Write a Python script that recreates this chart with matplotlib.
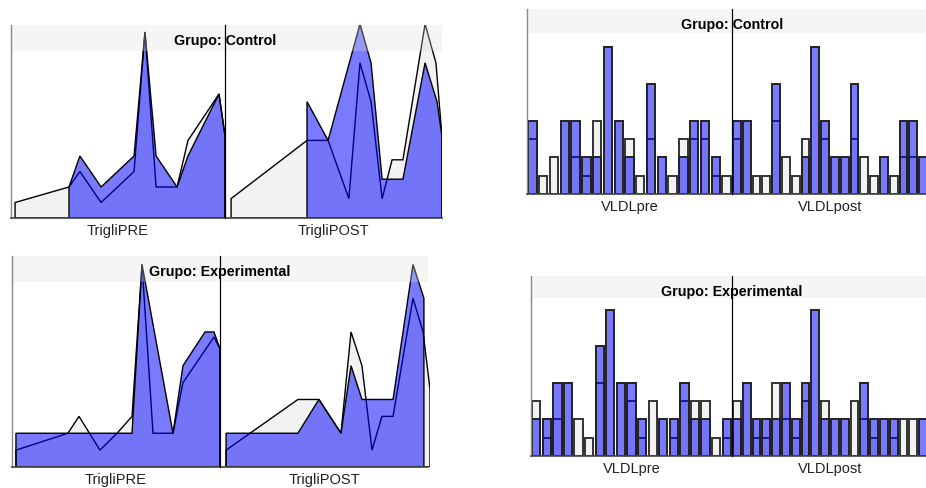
import matplotlib
matplotlib.use("Agg")
import matplotlib.pyplot as plt
from matplotlib.patches import Rectangle

W, H = 926, 489
GRAY = "#f2f2f2"
BLUE = (0.0, 0.0, 1.0, 0.52)

# frequency polygons, x on a 0-100 scale of each half, y = counts
# gray = reference distribution, blue = group
tri_pre_ctrl_ref_x = [1.9, 27.1, 32.2, 42.1, 57.5, 62.6, 67.8, 77.6, 82.7, 97.2, 100]
tri_pre_ctrl_ref_y = [1, 2, 3, 1, 3, 12, 2, 2, 5, 8, 5.3]
tri_pre_ctrl_x = [27.1, 32.2, 42.1, 57.5, 62.6, 67.8, 77.6, 82.7, 97.2, 100]
tri_pre_ctrl_y = [2, 4, 2, 4, 12, 4, 2, 4, 8, 5.3]

tri_post_ctrl_ref_x = [2.8, 37.8, 47.5, 57.1, 62.2, 67.3, 72.4, 77.0, 82.0, 92.2, 97.2, 100]
tri_post_ctrl_ref_y = [1, 4, 4, 1, 8, 6, 1, 3, 3, 10, 8, 4.2]
tri_post_ctrl_x = [37.8, 47.5, 62.2, 67.3, 72.4, 82.0, 92.2, 97.7, 100]
tri_post_ctrl_y = [6, 4, 10, 8, 2, 2, 8, 6, 4.2]

tri_pre_exp_ref_x = [1.9, 26.9, 32.2, 42.3, 50.5, 57.7, 62.5, 67.8, 77.4, 82.2, 97.1, 100]
tri_pre_exp_ref_y = [1, 2, 3, 1, 2, 3, 12, 2, 2, 5, 7.7, 7]
tri_pre_exp_x = [1.9, 57.7, 62.5, 77.4, 82.2, 92.8, 97.1, 100]
tri_pre_exp_y = [2, 2, 12, 2, 6, 8, 8, 7]

tri_post_exp_ref_x = [2.9, 37.1, 47.1, 57.6, 62.4, 67.6, 72.4, 77.1, 82.4, 91.9, 96.7, 100]
tri_post_exp_ref_y = [1, 4, 4, 2, 8, 6, 1, 3, 3, 10, 8, 4.6]
tri_post_exp_x = [2.9, 37.1, 47.1, 57.6, 62.4, 67.6, 82.4, 91.9, 97.1]
tri_post_exp_y = [2, 2, 4, 2, 6, 4, 4, 12, 10]

# histograms (counts per bin)
vldl_pre_ref = [3, 1, 2, 0, 2, 1, 4, 0, 0, 3, 1, 3, 0, 1, 3, 3, 3, 1, 1]
vldl_post_ref = [3, 0, 1, 1, 4, 2, 1, 3, 0, 3, 0, 0, 3, 2, 1, 0, 1, 2, 2, 0]
vldl_pre_ctrl = [4, 0, 0, 4, 4, 2, 2, 8, 4, 2, 0, 6, 2, 0, 2, 4, 4, 2, 0]
vldl_post_ctrl = [4, 4, 0, 0, 6, 0, 0, 2, 8, 4, 2, 2, 6, 0, 0, 2, 0, 4, 4, 2]
vldl_pre_exp = [2, 2, 4, 4, 0, 0, 6, 8, 4, 4, 2, 0, 2, 2, 4, 2, 2, 0, 2]
vldl_post_exp = [2, 4, 2, 2, 2, 4, 2, 4, 8, 2, 2, 2, 0, 4, 2, 2, 2, 0, 0, 2]


def px_axes(fig, x0, x1, y0, y1):
    return fig.add_axes([x0 / W, 1 - y1 / H, (x1 - x0) / W, (y1 - y0) / H])


def freq_polygon(ax, x, y, **kw):
    ax.fill([x[0]] + x + [x[-1]], [0] + y + [0], **kw)


def line_half(ax, ref_x, ref_y, grp_x, grp_y, ytop):
    freq_polygon(ax, ref_x, ref_y, facecolor=GRAY, edgecolor="black", lw=1.0)
    freq_polygon(ax, grp_x, grp_y, facecolor=BLUE, edgecolor="black", lw=1.0)
    ax.set_xlim(0, 100)
    ax.set_ylim(0, ytop)
    ax.axis("off")


def bar_half(ax, ref, grp, nslots, ytop):
    pos = [i + 0.5 for i in range(len(ref))]
    ax.bar(pos, ref, width=0.78, facecolor=GRAY, edgecolor="#333333", lw=1.4)
    ax.bar(pos, grp, width=0.78, facecolor=BLUE, edgecolor="#222222", lw=1.4)
    ax.set_xlim(0, nslots)
    ax.set_ylim(0, ytop)
    ax.axis("off")


def frame(fig, left, div, right, top, base, band, title, labels):
    ov = px_axes(fig, left, right, top, base)
    ov.set_xlim(left, right)
    ov.set_ylim(base, top)
    ov.patch.set_visible(False)
    ov.axis("off")
    ov.add_patch(Rectangle((left, top), right - left, band, facecolor="#dedede",
                           alpha=0.3, lw=0))
    ov.plot([left, left], [top, base], color="#888888", lw=1.0, clip_on=False)
    ov.plot([left, right], [base, base], color="#444444", lw=1.2, clip_on=False)
    ov.plot([div, div], [top, base], color="black", lw=0.9, clip_on=False)
    ov.text(div, top + 15, title, ha="center", va="center", fontsize=10.3,
            fontweight="bold", family=["Liberation Sans", "DejaVu Sans"])
    for (x0, x1), lab in zip([(left, div), (div, right)], labels):
        fig.text((x0 + x1) / 2 / W, 1 - (base + 12) / H, lab, ha="center", va="center",
                 fontsize=10.5, color="#222222", family=["Liberation Sans", "DejaVu Sans"])


fig = plt.figure(figsize=(9.26, 4.89), dpi=100)
fig.patch.set_facecolor("white")

# Triglicéridos, grupo control
line_half(px_axes(fig, 11, 225, 26, 219), tri_pre_ctrl_ref_x, tri_pre_ctrl_ref_y,
          tri_pre_ctrl_x, tri_pre_ctrl_y, 12.45)
line_half(px_axes(fig, 225, 442, 26, 219), tri_post_ctrl_ref_x, tri_post_ctrl_ref_y,
          tri_post_ctrl_x, tri_post_ctrl_y, 9.95)
frame(fig, 11, 225, 442, 26, 219, 26, "Grupo: Control", ["TrigliPRE", "TrigliPOST"])

# Triglicéridos, grupo experimental
line_half(px_axes(fig, 12, 220, 257, 468), tri_pre_exp_ref_x, tri_pre_exp_ref_y,
          tri_pre_exp_x, tri_pre_exp_y, 12.5)
line_half(px_axes(fig, 220, 430, 257, 468), tri_post_exp_ref_x, tri_post_exp_ref_y,
          tri_post_exp_x, tri_post_exp_y, 12.5)
frame(fig, 12, 220, 428, 257, 468, 26, "Grupo: Experimental", ["TrigliPRE", "TrigliPOST"])

# VLDL, grupo control
bar_half(px_axes(fig, 527, 732, 10, 195), vldl_pre_ref, vldl_pre_ctrl, 19, 10.1)
bar_half(px_axes(fig, 732, 928, 10, 195), vldl_post_ref, vldl_post_ctrl, 20, 10.1)
frame(fig, 527, 732, 928, 10, 195, 24, "Grupo: Control", ["VLDLpre", "VLDLpost"])

# VLDL, grupo experimental
bar_half(px_axes(fig, 531, 732, 277, 457), vldl_pre_ref, vldl_pre_exp, 19, 9.83)
bar_half(px_axes(fig, 732, 928, 277, 457), vldl_post_ref, vldl_post_exp, 20, 9.83)
frame(fig, 531, 732, 928, 277, 457, 22, "Grupo: Experimental", ["VLDLpre", "VLDLpost"])

fig.savefig("out.png", dpi=100)
